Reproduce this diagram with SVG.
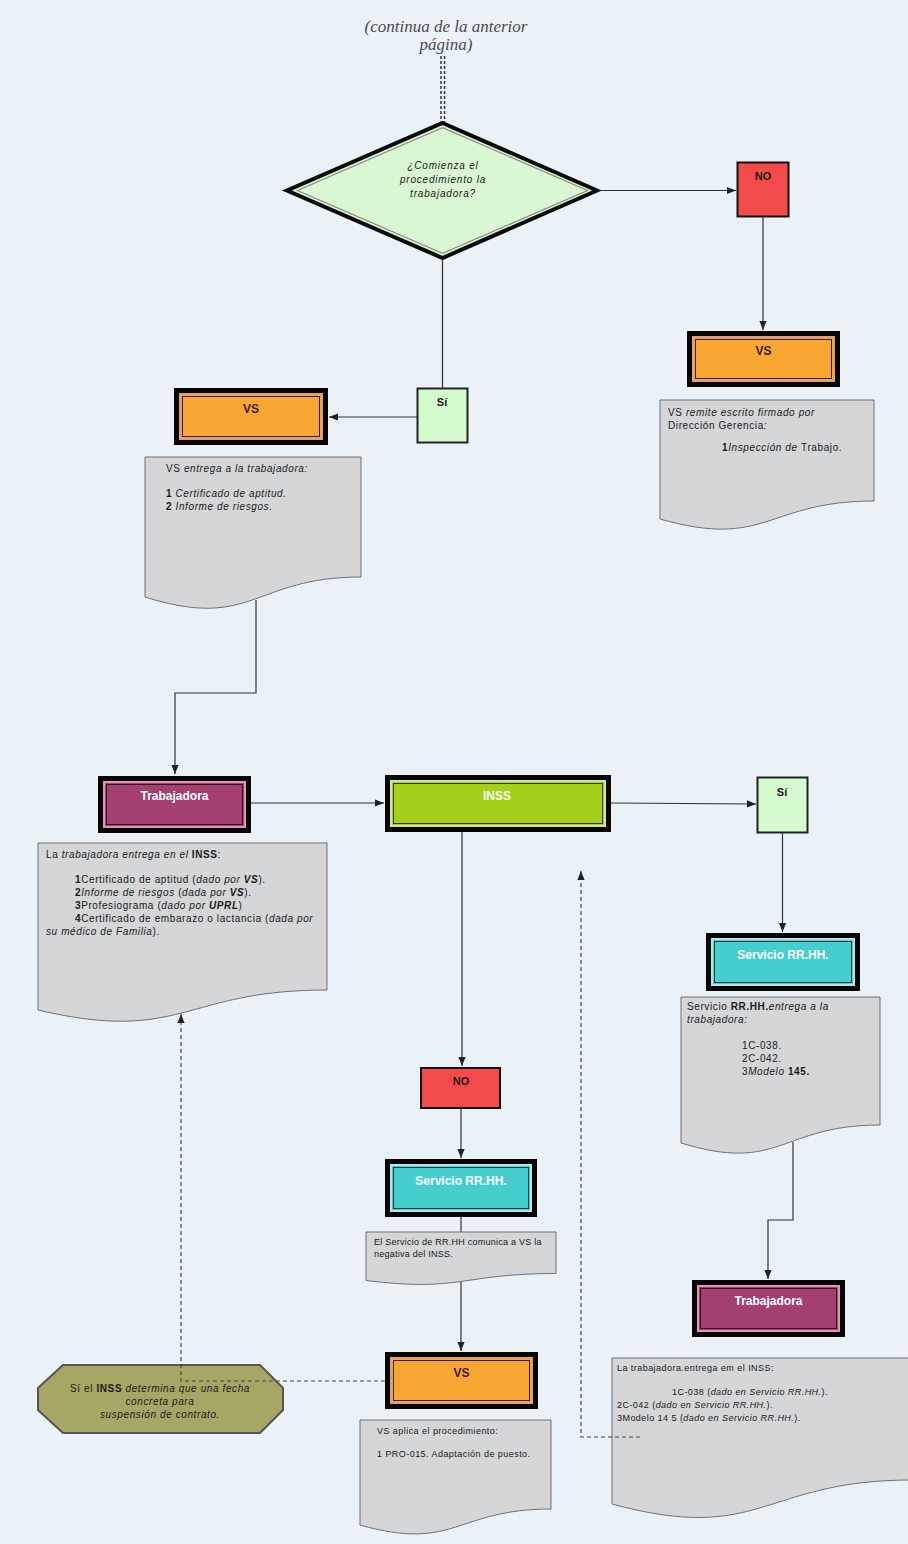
<svg xmlns="http://www.w3.org/2000/svg" width="908" height="1544" viewBox="0 0 908 1544">
<style>
.conn{stroke:#333;stroke-width:1.2;fill:none}
.dash{stroke:#444;stroke-width:1.2;fill:none;stroke-dasharray:4 3}
.doc{fill:#d4d6d8;stroke:#6f7173;stroke-width:1}
.t{font-family:"Liberation Sans",Arial,sans-serif;font-size:10px;letter-spacing:0.6px;fill:#1a1a1a}
.s{font-size:9px;letter-spacing:0.45px}
.i{font-style:italic}
.b{font-weight:bold}
.lbl{font-family:"Liberation Sans",Arial,sans-serif;font-weight:bold;font-size:12px;text-anchor:middle;fill:#fff}
.frame{fill:#0a0505}
</style>
<defs>
<marker id="arr" viewBox="0 0 10 10" refX="10" refY="5" markerWidth="9" markerHeight="9" orient="auto" markerUnits="userSpaceOnUse"><path d="M0,1 L10,5 L0,9 z" fill="#222"/></marker>
</defs>
<rect x="0" y="0" width="908" height="1544" fill="#eaf2f8"/>

<g id="title">
<text x="446" y="32" font-family="Liberation Serif,serif" font-style="italic" font-size="17" fill="#4a4a4a" text-anchor="middle">(continua de la anterior</text>
<text x="446" y="50" font-family="Liberation Serif,serif" font-style="italic" font-size="17" fill="#4a4a4a" text-anchor="middle">página)</text>
</g>

<g id="decision">
<polygon points="442.5,123 597,190.5 442.5,258 287,190.5" fill="#d9f7d3" stroke="#0a0a0a" stroke-width="4" stroke-linejoin="miter"/>
<polygon points="442.5,127.6 587.5,190.5 442.5,253.4 297.5,190.5" fill="none" stroke="#8a8f88" stroke-width="1.3"/>
<text class="t i" x="443" y="169" text-anchor="middle" style="letter-spacing:0.8px">¿Comienza el</text>
<text class="t i" x="443" y="183" text-anchor="middle" style="letter-spacing:0.8px">procedimiento la</text>
<text class="t i" x="443" y="197" text-anchor="middle" style="letter-spacing:0.8px">trabajadora?</text>
</g>

<g id="no-top">
<rect x="737.5" y="162.5" width="51" height="54" fill="#f34b4b" stroke="#111" stroke-width="2"/>
<text class="lbl" x="763" y="180" style="fill:#1a1a1a;font-size:11px">NO</text>
</g>

<g id="vs-right">
<rect class="frame" x="687" y="331" width="153" height="56"/>
<rect x="693" y="337" width="141" height="44" fill="#f8a732" stroke="#d9a37a" stroke-width="2"/>
<rect x="695.5" y="339.5" width="136" height="39" fill="none" stroke="#3a1a0a" stroke-width="1"/>
<text class="lbl" x="763.5" y="355" style="fill:#3a1a0a">VS</text>
</g>

<g id="doc-vs-right">
<path class="doc" d="M660,400 H874 V501 C767,501 767,549.6 660,519 Z"/>
<text class="t" x="668" y="416">VS <tspan class="i">remite escrito firmado por</tspan></text>
<text class="t" x="668" y="429">Dirección Gerencia<tspan class="i">:</tspan></text>
<text class="t" x="722" y="451"><tspan class="b">1</tspan><tspan class="i">Inspección de </tspan>Trabajo.</text>
</g>

<g id="si-top">
<rect x="417.5" y="388.5" width="50" height="54" fill="#d4fbcd" stroke="#222" stroke-width="2"/>
<text class="lbl" x="442" y="406" style="fill:#1a1a1a;font-size:11px">Sí</text>
</g>

<g id="vs-left">
<rect class="frame" x="174" y="388" width="154" height="57"/>
<rect x="180" y="394" width="142" height="45" fill="#f8a732" stroke="#d9a37a" stroke-width="2"/>
<rect x="182.5" y="396.5" width="137" height="40" fill="none" stroke="#3a1a0a" stroke-width="1"/>
<text class="lbl" x="251" y="413" style="fill:#3a1a0a">VS</text>
</g>

<g id="doc-vs-left">
<path class="doc" d="M145,457 H361 V577 C253,577 253,631 145,597 Z"/>
<text class="t" x="166" y="472">VS <tspan class="i">entrega a la trabajadora:</tspan></text>
<text class="t" x="166" y="497"><tspan class="b">1 </tspan><tspan class="i">Certificado de aptitud.</tspan></text>
<text class="t" x="166" y="510"><tspan class="b">2 </tspan><tspan class="i">Informe de riesgos.</tspan></text>
</g>

<g id="trabajadora-left">
<rect class="frame" x="98" y="776" width="153" height="57"/>
<rect x="104" y="782" width="141" height="45" fill="#a3406f" stroke="#d89ab5" stroke-width="2"/>
<rect x="106.5" y="784.5" width="136" height="40" fill="none" stroke="#3a0a20" stroke-width="1"/>
<text class="lbl" x="174.5" y="800">Trabajadora</text>
</g>

<g id="doc-trabajadora-left">
<path class="doc" d="M38,843 H327 V990 C182.5,990 182.5,1044 38,1010 Z"/>
<text class="t" x="46" y="858">La <tspan class="i">trabajadora entrega en el </tspan><tspan class="b">INSS</tspan>:</text>
<text class="t" x="75" y="883"><tspan class="b">1</tspan>Certificado de aptitud (<tspan class="i">dado por </tspan><tspan class="b i">VS</tspan>).</text>
<text class="t" x="75" y="896"><tspan class="b">2</tspan><tspan class="i">Informe de riesgos</tspan> (<tspan class="i">dada por </tspan><tspan class="b i">VS</tspan>).</text>
<text class="t" x="75" y="909"><tspan class="b">3</tspan>Profesiograma (<tspan class="i">dado por </tspan><tspan class="b i">UPRL</tspan>)</text>
<text class="t" x="75" y="922"><tspan class="b">4</tspan>Certificado de embarazo o lactancia (<tspan class="i">dada por</tspan></text>
<text class="t i" x="46" y="935">su médico de Familia<tspan style="font-style:normal">).</tspan></text>
</g>

<g id="inss">
<rect class="frame" x="385" y="775" width="226" height="57"/>
<rect x="391" y="781" width="214" height="45" fill="#a5cf18" stroke="#d3e59a" stroke-width="2"/>
<rect x="393.5" y="783.5" width="209" height="40" fill="none" stroke="#2a3a05" stroke-width="1"/>
<text class="lbl" x="497" y="800">INSS</text>
</g>

<g id="si-right">
<rect x="757.5" y="777.5" width="50" height="55" fill="#d4fbcd" stroke="#222" stroke-width="2"/>
<text class="lbl" x="782" y="796" style="fill:#1a1a1a;font-size:11px">Sí</text>
</g>

<g id="rrhh-right">
<rect class="frame" x="706" y="933" width="154" height="58"/>
<rect x="712" y="939" width="142" height="46" fill="#46cece" stroke="#b0e8e8" stroke-width="2"/>
<rect x="714.5" y="941.5" width="137" height="41" fill="none" stroke="#0a3a3a" stroke-width="1"/>
<text class="lbl" x="783" y="959">Servicio RR.HH.</text>
</g>

<g id="doc-rrhh-right">
<path class="doc" d="M681,997 H880 V1125 C780.5,1125 780.5,1173.6 681,1143 Z"/>
<text class="t" x="687" y="1010">Servicio <tspan class="b">RR.HH.</tspan><tspan class="i">entrega a la</tspan></text>
<text class="t i" x="687" y="1023">trabajadora:</text>
<text class="t" x="742" y="1049">1C-038.</text>
<text class="t" x="742" y="1062">2C-042.</text>
<text class="t" x="742" y="1075">3<tspan class="i">Modelo</tspan><tspan class="b"> 145.</tspan></text>
</g>

<g id="trabajadora-right">
<rect class="frame" x="692" y="1280" width="153" height="57"/>
<rect x="698" y="1286" width="141" height="45" fill="#a3406f" stroke="#d89ab5" stroke-width="2"/>
<rect x="700.5" y="1288.5" width="136" height="40" fill="none" stroke="#3a0a20" stroke-width="1"/>
<text class="lbl" x="768.5" y="1305">Trabajadora</text>
</g>

<g id="doc-trabajadora-right">
<path class="doc" d="M612,1358 H912 V1480 C762,1480 762,1544.8 612,1504 Z"/>
<text class="t s" x="617" y="1371">La trabajadora.entrega em el INSS:</text>
<text class="t s" x="672" y="1395">1C-038 (<tspan class="i">dado en Servicio RR.HH.</tspan>).</text>
<text class="t s" x="617" y="1408">2C-042 (<tspan class="i">dado en Servicio RR.HH.</tspan>).</text>
<text class="t s" x="617" y="1421">3Modelo 14 5 (<tspan class="i">dado en Servicio RR.HH.</tspan>).</text>
</g>

<g id="no-mid">
<rect x="421" y="1068" width="79" height="40" fill="#f34b4b" stroke="#111" stroke-width="2"/>
<text class="lbl" x="461" y="1085" style="fill:#1a1a1a;font-size:11px">NO</text>
</g>

<g id="rrhh-mid">
<rect class="frame" x="385" y="1159" width="152" height="58"/>
<rect x="391" y="1165" width="140" height="46" fill="#46cece" stroke="#b0e8e8" stroke-width="2"/>
<rect x="393.5" y="1167.5" width="135" height="41" fill="none" stroke="#0a3a3a" stroke-width="1"/>
<text class="lbl" x="461" y="1185">Servicio RR.HH.</text>
</g>

<g id="doc-rrhh-mid">
<path class="doc" d="M366,1232 H556 V1273.5 C461,1273.5 461,1292.4 366,1280.5 Z"/>
<text class="t s" x="374" y="1245" style="letter-spacing:0.25px">El Servicio de RR.HH comunica a VS la</text>
<text class="t s" x="374" y="1257" style="letter-spacing:0.25px">negativa del INSS.</text>
</g>

<g id="vs-bottom">
<rect class="frame" x="385" y="1352" width="153" height="57"/>
<rect x="391" y="1358" width="141" height="45" fill="#f8a732" stroke="#d9a37a" stroke-width="2"/>
<rect x="393.5" y="1360.5" width="136" height="40" fill="none" stroke="#3a1a0a" stroke-width="1"/>
<text class="lbl" x="461.5" y="1377" style="fill:#3a1a0a">VS</text>
</g>

<g id="doc-vs-bottom">
<path class="doc" d="M360,1420 H551 V1509 C455.5,1509 455.5,1552 360,1525 Z"/>
<text class="t s" x="377" y="1434">VS aplica el procedimiento:</text>
<text class="t s" x="377" y="1457">1 PRO-015. Adaptación de puesto.</text>
</g>

<g id="octagon">
<polygon points="63,1365 260,1365 283,1388 283,1410 260,1433 63,1433 38,1410 38,1388" fill="#a7a765" stroke="#555" stroke-width="2"/>
<text class="t" x="160" y="1392" text-anchor="middle">Sí el <tspan class="b">INSS</tspan><tspan class="i"> determina que una fecha</tspan></text>
<text class="t i" x="160" y="1405" text-anchor="middle">concreta para</text>
<text class="t i" x="160" y="1418" text-anchor="middle">suspensión de contrato.</text>
</g>

<g id="connectors">
<line x1="441" y1="56" x2="441" y2="122" stroke="#333" stroke-width="1.5" stroke-dasharray="3 2"/>
<line x1="444.5" y1="56" x2="444.5" y2="122" stroke="#333" stroke-width="1.5" stroke-dasharray="3 2"/>
<line class="conn" x1="598" y1="190.5" x2="736" y2="190.5" marker-end="url(#arr)"/>
<line class="conn" x1="763" y1="217" x2="763" y2="330" marker-end="url(#arr)"/>
<line class="conn" x1="442.5" y1="260" x2="442.5" y2="388"/>
<line class="conn" x1="417" y1="417" x2="329" y2="417" marker-end="url(#arr)"/>
<polyline class="conn" points="256,600 256,693 175,693 175,774" marker-end="url(#arr)"/>
<line class="conn" x1="251" y1="803" x2="384" y2="803" marker-end="url(#arr)"/>
<line class="conn" x1="611" y1="803" x2="756" y2="804" marker-end="url(#arr)"/>
<line class="conn" x1="782.5" y1="833" x2="782.5" y2="932" marker-end="url(#arr)"/>
<polyline class="conn" points="793,1142 793,1220 768,1220 768,1279" marker-end="url(#arr)"/>
<line class="conn" x1="462" y1="832" x2="462" y2="1066" marker-end="url(#arr)"/>
<line class="conn" x1="461" y1="1109" x2="461" y2="1158" marker-end="url(#arr)"/>
<line class="conn" x1="461" y1="1217" x2="461" y2="1232"/>
<line class="conn" x1="461" y1="1282" x2="461" y2="1351" marker-end="url(#arr)"/>
<polyline class="dash" points="385,1381 181,1381 181,1014" marker-end="url(#arr)"/>
<polyline class="dash" points="640,1437 581,1437 581,871" marker-end="url(#arr)"/>
</g>
</svg>
